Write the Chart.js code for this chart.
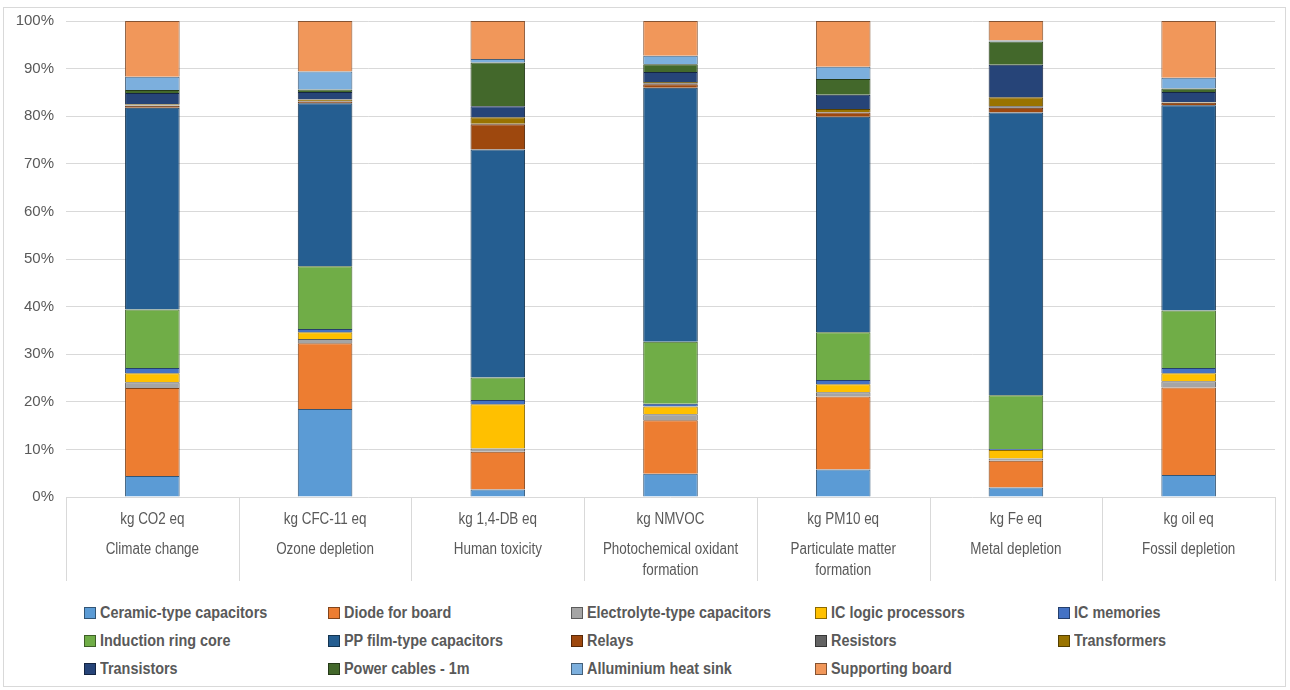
<!DOCTYPE html>
<html lang="en">
<head>
  <meta charset="UTF-8" />
  <title>Impact contribution by component</title>
  <script src="https://cdn.jsdelivr.net/npm/chart.js"></script>
  <style>
    body {
      margin: 0;
      background: #fff;
      font-family: "Liberation Sans", Arial, sans-serif;
    }

    .frame {
      position: absolute;
      left: 3px;
      top: 7px;
      width: 1283px;
      height: 680px;
      border: 1px solid #d9d9d9;
      box-sizing: border-box;
    }

    .chart-box {
      position: absolute;
      left: 0;
      top: 0;
      width: 1290px;
      height: 590px;
    }

    #legend {
      position: absolute;
      left: 84px;
      top: 602px;
      display: grid;
      grid-template-columns: repeat(5, 243.5px);
      grid-auto-rows: 28px;
      color: #595959;
      font-weight: bold;
      font-size: 16px;
    }

    .item {
      display: flex;
      align-items: center;
      height: 22px;
      white-space: nowrap;
    }

    .swatch {
      width: 10px;
      height: 10px;
      border: 1px solid #404040;
      margin-right: 4px;
      flex: none;
    }

    /* narrow look, like a condensed face */
    .name {
      display: inline-block;
      transform: scaleX(0.9);
      transform-origin: left center;
    }
  </style>
</head>
<body>
  <div class="frame"></div>
  <div class="chart-box"><canvas id="lcaChart" width="1290" height="590"></canvas></div>
  <div id="legend"></div>

  <script>
    const units = ['kg CO2 eq', 'kg CFC-11 eq', 'kg 1,4-DB eq', 'kg NMVOC', 'kg PM10 eq', 'kg Fe eq', 'kg oil eq'];
    const categories = [
      ['Climate change'],
      ['Ozone depletion'],
      ['Human toxicity'],
      ['Photochemical oxidant', 'formation'],
      ['Particulate matter', 'formation'],
      ['Metal depletion'],
      ['Fossil depletion']
    ];

    const components = [
      'Ceramic-type capacitors', 'Diode for board', 'Electrolyte-type capacitors', 'IC logic processors', 'IC memories',
      'Induction ring core', 'PP film-type capacitors', 'Relays', 'Resistors', 'Transformers',
      'Transistors', 'Power cables - 1m', 'Alluminium heat sink', 'Supporting board'
    ];
    const colours = [
      '#5B9BD5', '#ED7D31', '#A5A5A5', '#FFC000', '#4472C4',
      '#70AD47', '#255E91', '#9E480E', '#636363', '#997300',
      '#264478', '#43682B', '#7CAFDD', '#F1975A'
    ];

    // share of each component (%) per impact category
    const ceramic       = [4.4, 18.5, 1.6, 4.9, 5.8, 2.0, 4.6];
    const diode         = [18.5, 13.8, 7.9, 11.2, 15.3, 5.6, 18.4];
    const electrolyte   = [1.2, 0.9, 0.7, 1.3, 0.9, 0.5, 1.3];
    const icLogic       = [1.9, 1.4, 9.3, 1.6, 1.7, 1.8, 1.7];
    const icMemories    = [1.1, 0.7, 0.9, 0.6, 0.9, 0.2, 1.1];
    const inductionCore = [12.3, 13.2, 4.7, 13.0, 10.0, 11.3, 12.1];
    const ppFilm        = [42.4, 34.2, 47.9, 53.4, 45.3, 59.4, 43.1];
    const relays        = [0.4, 0.4, 5.3, 0.7, 0.9, 1.0, 0.5];
    const resistors     = [0.1, 0.1, 0.1, 0.2, 0.1, 0.3, 0.1];
    const transformers  = [0.2, 0.3, 1.4, 0.3, 0.6, 1.9, 0.1];
    const transistors   = [2.4, 1.6, 2.3, 2.1, 3.0, 6.8, 2.1];
    const powerCables   = [0.6, 0.5, 9.2, 1.6, 3.3, 4.9, 0.7];
    const heatSink      = [2.8, 3.8, 0.7, 1.8, 2.6, 0.2, 2.3];
    const board         = [11.7, 10.6, 8.0, 7.3, 9.6, 4.1, 11.9];

    const yTicks = [0, 10, 20, 30, 40, 50, 60, 70, 80, 90, 100];

    const series = [ceramic, diode, electrolyte, icLogic, icMemories, inductionCore, ppFilm,
      relays, resistors, transformers, transistors, powerCables, heatSink, board];

    function darker(hex, f) {
      const n = parseInt(hex.slice(1), 16);
      const r = Math.round(((n >> 16) & 255) * f);
      const g = Math.round(((n >> 8) & 255) * f);
      const b = Math.round((n & 255) * f);
      return `rgb(${r}, ${g}, ${b})`;
    }

    const FONT = '"Liberation Sans", Arial, sans-serif';

    // two-level category axis below the plot: unit row + category name, with separators
    const categoryAxis = {
      id: 'categoryAxis',
      afterDraw(chart) {
        const ctx = chart.ctx;
        const x = chart.scales.x;
        const area = chart.chartArea;
        const step = (area.right - area.left) / units.length;
        ctx.save();
        ctx.strokeStyle = '#d9d9d9';
        ctx.lineWidth = 1;
        for (let i = 0; i <= units.length; i++) {
          const px = Math.round(area.left + i * step) + 0.5;
          ctx.beginPath();
          ctx.moveTo(px, area.bottom);
          ctx.lineTo(px, area.bottom + 84);
          ctx.stroke();
        }
        ctx.fillStyle = '#595959';
        ctx.font = '16px ' + FONT;
        ctx.textAlign = 'center';
        ctx.textBaseline = 'middle';
        const put = (text, cx, cy) => {
          ctx.save();
          ctx.translate(cx, cy);
          ctx.scale(0.84, 1);
          ctx.fillText(text, 0, 0);
          ctx.restore();
        };
        units.forEach((u, i) => {
          const cx = x.getPixelForValue(i);
          put(u, cx, area.bottom + 23);
          categories[i].forEach((line, j) => put(line, cx, area.bottom + 53 + j * 21));
        });
        ctx.restore();
      }
    };

    const ctx = document.getElementById('lcaChart').getContext('2d');
    new Chart(ctx, {
      type: 'bar',
      data: {
        labels: units,
        datasets: series.map((data, i) => ({
          label: components[i],
          data,
          backgroundColor: colours[i],
          borderColor: darker(colours[i], 0.55),
          borderWidth: 1,
          barPercentage: 0.316,
          categoryPercentage: 1
        }))
      },
      options: {
        responsive: false,
        animation: false,
        layout: { padding: { left: 10, right: 15, top: 21, bottom: 93 } },
        plugins: {
          legend: { display: false },
          tooltip: { enabled: false }
        },
        scales: {
          x: {
            stacked: true,
            afterFit(scale) { scale.height = 0; },
            grid: { display: false },
            border: { display: false },
            ticks: { display: false }
          },
          y: {
            stacked: true,
            min: 0,
            max: 100,
            afterFit(scale) { scale.width = 56; },
            afterBuildTicks(scale) { scale.ticks = yTicks.map(v => ({ value: v })); },
            grid: { color: '#d9d9d9', drawTicks: false },
            border: { display: false },
            ticks: {
              padding: 12,
              color: '#595959',
              font: { size: 15, family: FONT },
              callback: v => v + '%'
            }
          }
        }
      },
      plugins: [categoryAxis]
    });

    // legend in five aligned columns
    const legend = document.getElementById('legend');
    components.forEach((name, i) => {
      const item = document.createElement('div');
      item.className = 'item';
      const sw = document.createElement('span');
      sw.className = 'swatch';
      sw.style.background = colours[i];
      sw.style.borderColor = darker(colours[i], 0.55);
      const label = document.createElement('span');
      label.className = 'name';
      label.textContent = name;
      item.appendChild(sw);
      item.appendChild(label);
      legend.appendChild(item);
    });
  </script>
</body>
</html>
